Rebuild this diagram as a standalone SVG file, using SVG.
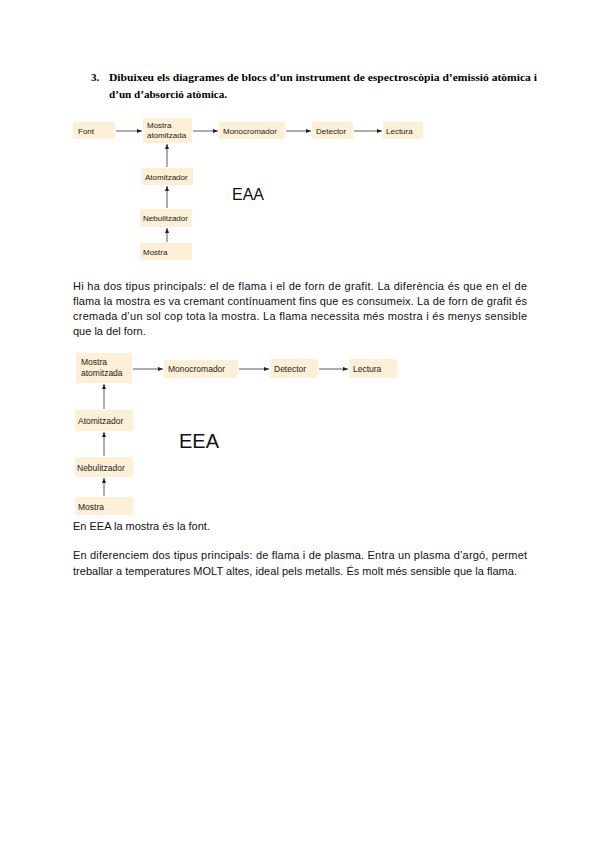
<svg xmlns="http://www.w3.org/2000/svg" width="600" height="848" viewBox="0 0 600 848">
<defs>
<marker id="ah" markerWidth="6" markerHeight="6" refX="5" refY="3" orient="auto" markerUnits="userSpaceOnUse">
<path d="M0,1 L5,3 L0,5 Z" fill="#222"/>
</marker>
<style>
.box{fill:#fdf0d6}
.l1{font-family:"Liberation Sans",Arial,sans-serif;font-size:8px;fill:#222}
.l2{font-family:"Liberation Sans",Arial,sans-serif;font-size:8.5px;fill:#222}
.c line{stroke:#333;stroke-width:0.8;marker-end:url(#ah)}
.t{font-family:"Liberation Serif","Times New Roman",serif;font-size:11px;font-weight:bold;fill:#000}
.p{font-family:"Liberation Sans",Arial,sans-serif;font-size:11px;fill:#111}
.big{font-family:"Liberation Sans",Arial,sans-serif;fill:#111}
</style>
</defs>
<rect width="600" height="848" fill="#fff"/>

<text class="t" x="91" y="81">3.</text>
<text class="t" x="109" y="81" textLength="428" lengthAdjust="spacingAndGlyphs">Dibuixeu els diagrames de blocs d’un instrument de espectroscòpia d’emissió atòmica i</text>
<text class="t" x="109" y="98" textLength="118" lengthAdjust="spacingAndGlyphs">d’un d’absorció atòmica.</text>

<!-- Diagram 1 -->
<g id="d1-font"><rect class="box" x="73" y="122" width="42" height="17"/><text class="l1" x="78" y="133.5">Font</text></g>
<g id="d1-mat"><rect class="box" x="143" y="118" width="49" height="25"/><text class="l1" x="147" y="128">Mostra</text><text class="l1" x="147" y="138">atomitzada</text></g>
<g id="d1-mono"><rect class="box" x="219" y="122" width="66" height="17"/><text class="l1" x="223" y="133.5">Monocromador</text></g>
<g id="d1-det"><rect class="box" x="312" y="122" width="41" height="17"/><text class="l1" x="316" y="133.5">Detector</text></g>
<g id="d1-lec"><rect class="box" x="383" y="122" width="40" height="17"/><text class="l1" x="386" y="133.5">Lectura</text></g>
<g id="d1-atom"><rect class="box" x="142" y="168" width="51" height="17"/><text class="l1" x="145" y="179.5">Atomitzador</text></g>
<g id="d1-neb"><rect class="box" x="140" y="209" width="52" height="18"/><text class="l1" x="143" y="220.5">Nebulitzador</text></g>
<g id="d1-mos"><rect class="box" x="140" y="243" width="52" height="17"/><text class="l1" x="143" y="254.5">Mostra</text></g>
<text class="big" x="232" y="200" font-size="16">EAA</text>

<g class="c" id="d1-connectors">
<line x1="116" y1="131" x2="142" y2="131"/>
<line x1="193" y1="131" x2="218" y2="131"/>
<line x1="286" y1="131" x2="311" y2="131"/>
<line x1="354" y1="131" x2="382" y2="131"/>
<line x1="167" y1="167" x2="167" y2="144"/>
<line x1="167" y1="208" x2="167" y2="186"/>
<line x1="167" y1="242" x2="167" y2="228"/>
</g>

<text class="p" x="73" y="290" textLength="454" lengthAdjust="spacing">Hi ha dos tipus principals: el de flama i el de forn de grafit. La diferència és que en el de</text>
<text class="p" x="73" y="305" textLength="454" lengthAdjust="spacing">flama la mostra es va cremant contínuament fins que es consumeix. La de forn de grafit és</text>
<text class="p" x="73" y="320" textLength="454" lengthAdjust="spacing">cremada d’un sol cop tota la mostra. La flama necessita més mostra i és menys sensible</text>
<text class="p" x="73" y="335">que la del forn.</text>

<!-- Diagram 2 -->
<g id="d2-mat"><rect class="box" x="76" y="353" width="56" height="30"/><text class="l2" x="81" y="365">Mostra</text><text class="l2" x="81" y="376">atomitzada</text></g>
<g id="d2-mono"><rect class="box" x="164" y="360" width="74" height="18"/><text class="l2" x="168" y="372">Monocromador</text></g>
<g id="d2-det"><rect class="box" x="270" y="359" width="48" height="19"/><text class="l2" x="274" y="372">Detector</text></g>
<g id="d2-lec"><rect class="box" x="349" y="359" width="48" height="19"/><text class="l2" x="353" y="372">Lectura</text></g>
<g id="d2-atom"><rect class="box" x="75" y="410" width="58" height="21"/><text class="l2" x="78" y="424">Atomitzador</text></g>
<g id="d2-neb"><rect class="box" x="75" y="457" width="58" height="20"/><text class="l2" x="77" y="471">Nebulitzador</text></g>
<g id="d2-mos"><rect class="box" x="75" y="497" width="58" height="18"/><text class="l2" x="78" y="509.5">Mostra</text></g>
<text class="big" x="179" y="448" font-size="20">EEA</text>

<g class="c" id="d2-connectors">
<line x1="133" y1="369" x2="163" y2="369"/>
<line x1="239" y1="369" x2="269" y2="369"/>
<line x1="319" y1="369" x2="348" y2="369"/>
<line x1="104" y1="409" x2="104" y2="384"/>
<line x1="104" y1="456" x2="104" y2="432"/>
<line x1="104" y1="496" x2="104" y2="478"/>
</g>

<text class="p" x="73" y="530">En EEA la mostra és la font.</text>
<text class="p" x="73" y="559" textLength="454" lengthAdjust="spacing">En diferenciem dos tipus principals: de flama i de plasma. Entra un plasma d’argó, permet</text>
<text class="p" x="73" y="575" textLength="444" lengthAdjust="spacing">treballar a temperatures MOLT altes, ideal pels metalls. És molt més sensible que la flama.</text>
</svg>
